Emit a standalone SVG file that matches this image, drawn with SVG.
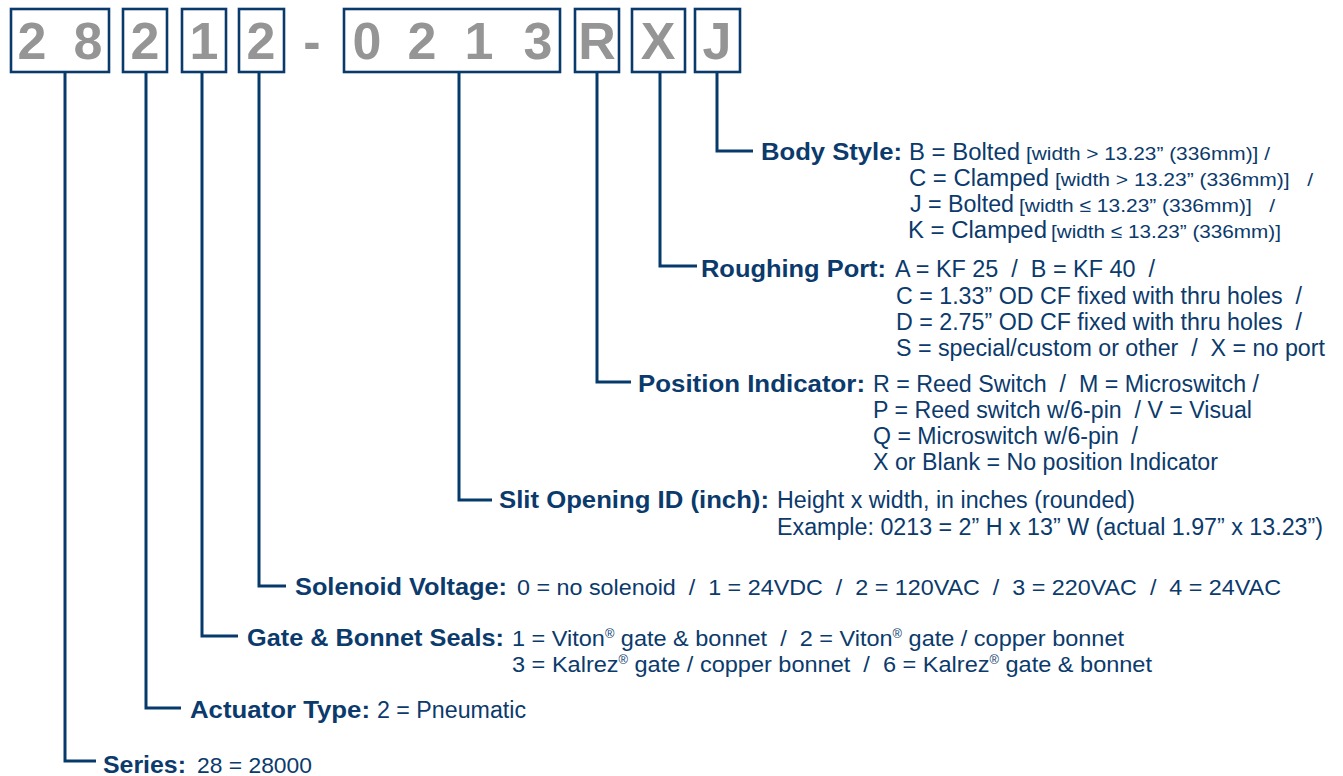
<svg xmlns="http://www.w3.org/2000/svg" width="1343" height="776" viewBox="0 0 1343 776">
<style>
.box{fill:#fff;stroke:#0a3a6b;stroke-width:2.6}
.dig{font-family:"Liberation Sans",Arial,sans-serif;font-weight:bold;font-size:52px;fill:#959595;text-anchor:middle}
.con{fill:none;stroke:#053a6b;stroke-width:3}
.lab{font-family:"Liberation Sans",Arial,sans-serif;font-weight:bold;font-size:24px;fill:#0b3a6c;white-space:pre}
.val{font-family:"Liberation Sans Narrow","Liberation Sans",Arial,sans-serif;font-size:23px;fill:#0b3a6c;white-space:pre}
.gv{font-family:"Liberation Sans Narrow","Liberation Sans",Arial,sans-serif;font-size:22px;fill:#0b3a6c;white-space:pre}
.reg{font-family:"Liberation Sans",Arial,sans-serif;font-size:22px;fill:#0b3a6c;white-space:pre}
.sm{font-family:"Liberation Sans Narrow","Liberation Sans",Arial,sans-serif;font-size:19px;fill:#0b3a6c;white-space:pre}
.sup{font-size:12px}
</style>
<rect width="1343" height="776" fill="#fff"/>
<g id="code">
  <g id="box-series"><rect class="box" x="11" y="9" width="98" height="63"/><text class="dig" x="32" y="59">2</text><text class="dig" x="88" y="59">8</text></g>
  <g id="box-actuator"><rect class="box" x="123" y="9" width="44" height="63"/><text class="dig" x="145" y="59">2</text></g>
  <g id="box-seals"><rect class="box" x="182" y="9" width="44" height="63"/><text class="dig" x="204" y="59">1</text></g>
  <g id="box-solenoid"><rect class="box" x="239" y="9" width="45" height="63"/><text class="dig" x="261" y="59">2</text></g>
  <text class="dig" x="312" y="59">-</text>
  <g id="box-slit"><rect class="box" x="344" y="9" width="216" height="63"/><text class="dig" x="367" y="59">0</text><text class="dig" x="422" y="59">2</text><text class="dig" x="479" y="59">1</text><text class="dig" x="538" y="59">3</text></g>
  <g id="box-position"><rect class="box" x="575" y="9" width="44" height="63"/><text class="dig" x="597" y="59">R</text></g>
  <g id="box-port"><rect class="box" x="632" y="9" width="53" height="63"/><text class="dig" x="658" y="59">X</text></g>
  <g id="box-body"><rect class="box" x="695" y="9" width="45" height="63"/><text class="dig" x="717" y="59">J</text></g>
</g>
<g id="connectors">
  <path class="con" d="M717 72V151H753"/>
  <path class="con" d="M660 72V266H697"/>
  <path class="con" d="M597 72V382H631"/>
  <path class="con" d="M459 72V500H492"/>
  <path class="con" d="M259 72V586H286"/>
  <path class="con" d="M202 72V636H238"/>
  <path class="con" d="M146 72V708H181"/>
  <path class="con" d="M65 72V761H96"/>
</g>
<g id="body-style">
  <text class="lab" x="761" y="160" textLength="141" lengthAdjust="spacingAndGlyphs">Body Style:</text>
  <text class="val" x="909" y="160" textLength="111" lengthAdjust="spacingAndGlyphs">B = Bolted</text>
  <text class="sm" x="1026" y="160" textLength="244" lengthAdjust="spacingAndGlyphs">[width &gt; 13.23” (336mm)] /</text>
  <text class="val" x="909" y="186" textLength="140" lengthAdjust="spacingAndGlyphs">C = Clamped</text>
  <text class="sm" x="1055" y="186" textLength="258" lengthAdjust="spacingAndGlyphs">[width &gt; 13.23” (336mm)]   /</text>
  <text class="val" x="910" y="212" textLength="104" lengthAdjust="spacingAndGlyphs">J = Bolted</text>
  <text class="sm" x="1019" y="212" textLength="256" lengthAdjust="spacingAndGlyphs">[width ≤ 13.23” (336mm)]   /</text>
  <text class="val" x="908" y="238" textLength="139" lengthAdjust="spacingAndGlyphs">K = Clamped</text>
  <text class="sm" x="1051" y="238" textLength="230" lengthAdjust="spacingAndGlyphs">[width ≤ 13.23” (336mm)]</text>
</g>
<g id="roughing-port">
  <text class="lab" x="701" y="277" textLength="185" lengthAdjust="spacingAndGlyphs">Roughing Port:</text>
  <text class="val" x="895" y="277" textLength="260" lengthAdjust="spacingAndGlyphs">A = KF 25  /  B = KF 40  /</text>
  <text class="val" x="896" y="304" textLength="406" lengthAdjust="spacingAndGlyphs">C = 1.33” OD CF fixed with thru holes  /</text>
  <text class="val" x="896" y="330" textLength="406" lengthAdjust="spacingAndGlyphs">D = 2.75” OD CF fixed with thru holes  /</text>
  <text class="val" x="896" y="356" textLength="429" lengthAdjust="spacingAndGlyphs">S = special/custom or other  /  X = no port</text>
</g>
<g id="position-indicator">
  <text class="lab" x="638" y="392" textLength="227" lengthAdjust="spacingAndGlyphs">Position Indicator:</text>
  <text class="val" x="873" y="392" textLength="386" lengthAdjust="spacingAndGlyphs">R = Reed Switch  /  M = Microswitch /</text>
  <text class="val" x="873" y="418" textLength="379" lengthAdjust="spacingAndGlyphs">P = Reed switch w/6-pin  / V = Visual</text>
  <text class="val" x="873" y="444" textLength="265" lengthAdjust="spacingAndGlyphs">Q = Microswitch w/6-pin  /</text>
  <text class="val" x="873" y="470" textLength="345" lengthAdjust="spacingAndGlyphs">X or Blank = No position Indicator</text>
</g>
<g id="slit-opening">
  <text class="lab" x="499" y="508" textLength="270" lengthAdjust="spacingAndGlyphs">Slit Opening ID (inch):</text>
  <text class="val" x="777" y="508" textLength="358" lengthAdjust="spacingAndGlyphs">Height x width, in inches (rounded)</text>
  <text class="val" x="777" y="535" textLength="546" lengthAdjust="spacingAndGlyphs">Example: 0213 = 2” H x 13” W (actual 1.97” x 13.23”)</text>
</g>
<g id="solenoid-voltage">
  <text class="lab" x="295" y="595" textLength="212" lengthAdjust="spacingAndGlyphs">Solenoid Voltage:</text>
  <text class="reg" x="517" y="595" textLength="764" lengthAdjust="spacingAndGlyphs">0 = no solenoid  /  1 = 24VDC  /  2 = 120VAC  /  3 = 220VAC  /  4 = 24VAC</text>
</g>
<g id="gate-bonnet-seals">
  <text class="lab" x="247" y="646" textLength="257" lengthAdjust="spacingAndGlyphs">Gate &amp; Bonnet Seals:</text>
  <text class="gv" x="512" y="646" textLength="612" lengthAdjust="spacingAndGlyphs">1 = Viton<tspan class="sup" dy="-8">®</tspan><tspan dy="8"> gate &amp; bonnet  /  2 = Viton</tspan><tspan class="sup" dy="-8">®</tspan><tspan dy="8"> gate / copper bonnet</tspan></text>
  <text class="gv" x="512" y="672" textLength="640" lengthAdjust="spacingAndGlyphs">3 = Kalrez<tspan class="sup" dy="-8">®</tspan><tspan dy="8"> gate / copper bonnet  /  6 = Kalrez</tspan><tspan class="sup" dy="-8">®</tspan><tspan dy="8"> gate &amp; bonnet</tspan></text>
</g>
<g id="actuator-type">
  <text class="lab" x="190" y="718" textLength="180" lengthAdjust="spacingAndGlyphs">Actuator Type:</text>
  <text class="val" x="377" y="718" textLength="149" lengthAdjust="spacingAndGlyphs">2 = Pneumatic</text>
</g>
<g id="series">
  <text class="lab" x="103" y="773" textLength="83" lengthAdjust="spacingAndGlyphs">Series:</text>
  <text class="reg" x="197" y="773" textLength="115" lengthAdjust="spacingAndGlyphs">28 = 28000</text>
</g>
</svg>
